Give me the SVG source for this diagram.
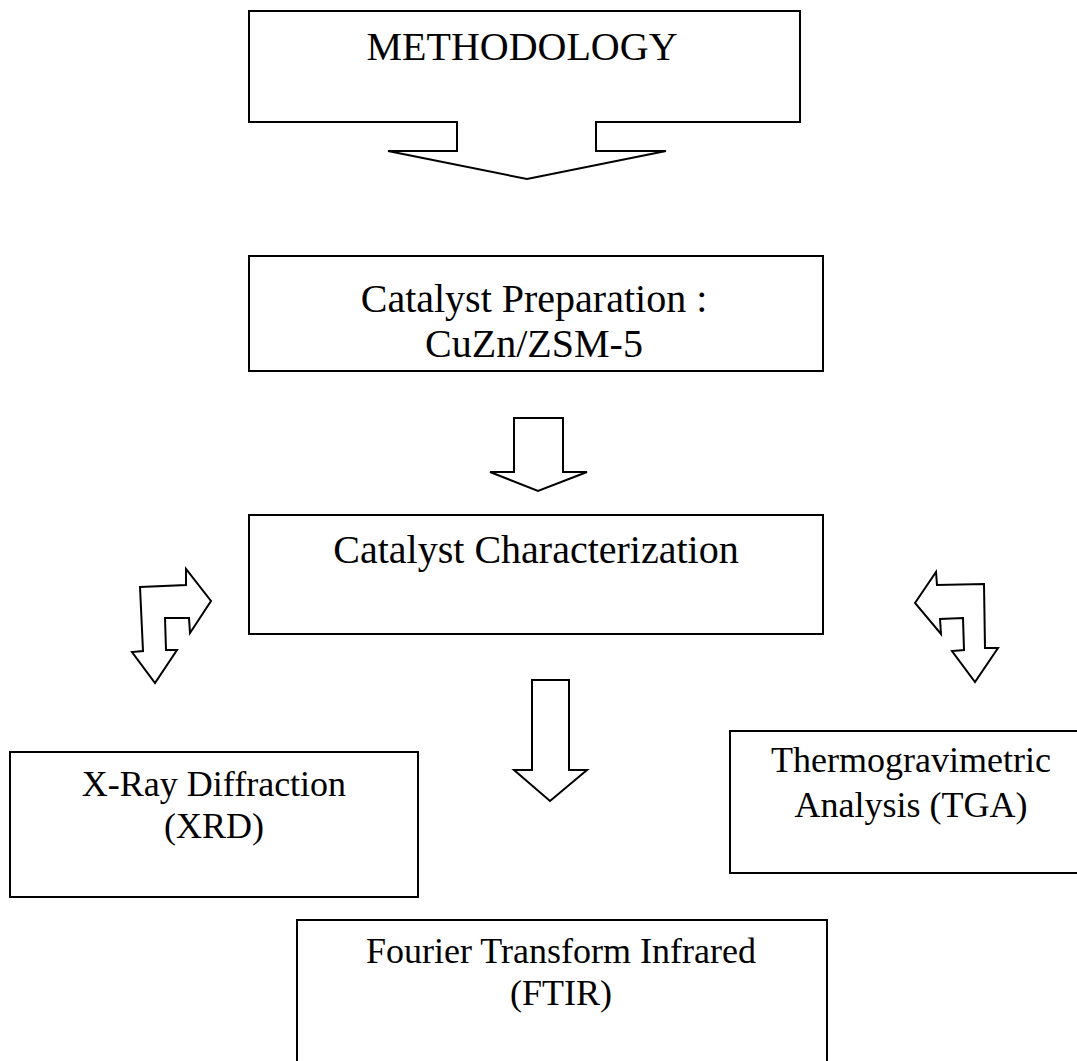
<svg xmlns="http://www.w3.org/2000/svg" width="1077" height="1061" viewBox="0 0 1077 1061">
<style>
.box{fill:#fff;stroke:#000;stroke-width:2}
.arr{fill:#fff;stroke:#000;stroke-width:2;stroke-linejoin:miter}
.t{font-family:"Liberation Serif","Times New Roman",serif;fill:#000;text-anchor:middle}
.big{font-size:40px}
.mid{font-size:36px}
</style>
<rect width="1077" height="1061" fill="#fff"/>
<g id="methodology">
<path class="arr" d="M249,11 H800 V122 H596 V151 H666 L527,179 L388,151 H457 V122 H249 Z"/>
<text class="t big" x="522" y="60">METHODOLOGY</text>
</g>
<g id="preparation">
<rect class="box" x="249" y="256" width="574" height="115"/>
<text class="t big" x="534" y="312">Catalyst Preparation :</text>
<text class="t big" x="534" y="357">CuZn/ZSM-5</text>
</g>
<g id="characterization">
<rect class="box" x="249" y="515" width="574" height="119"/>
<text class="t big" x="536" y="563">Catalyst Characterization</text>
</g>
<g id="xrd">
<rect class="box" x="10" y="752" width="408" height="145"/>
<text class="t mid" x="214" y="796">X-Ray Diffraction</text>
<text class="t mid" x="214" y="838">(XRD)</text>
</g>
<g id="tga">
<rect class="box" x="730" y="731" width="360" height="142"/>
<text class="t mid" x="911" y="772">Thermogravimetric</text>
<text class="t mid" x="911" y="817">Analysis (TGA)</text>
</g>
<g id="ftir">
<rect class="box" x="297" y="920" width="530" height="160"/>
<text class="t mid" x="561" y="963">Fourier Transform Infrared</text>
<text class="t mid" x="561" y="1005">(FTIR)</text>
</g>
<g id="connectors">
<path class="arr" d="M514,418 H563 V472 H587 L538,491 L490,472 H514 Z"/>
<path class="arr" d="M532,680 H569 V770 H587 L550,801 L514,770 H532 Z"/>
<path class="arr" d="M140,587 L186,585 L186,569 L211,601 L190,633 L189,618 L165,618 L166,650 L177,650 L155,683 L132,652 L143,651 Z"/>
<path class="arr" d="M915,603 L936,572 L937,585 L984,584 L985,648 L998,648 L975,682 L952,651 L964,650 L963,618 L940,619 L941,634 Z"/>
</g>
</svg>
